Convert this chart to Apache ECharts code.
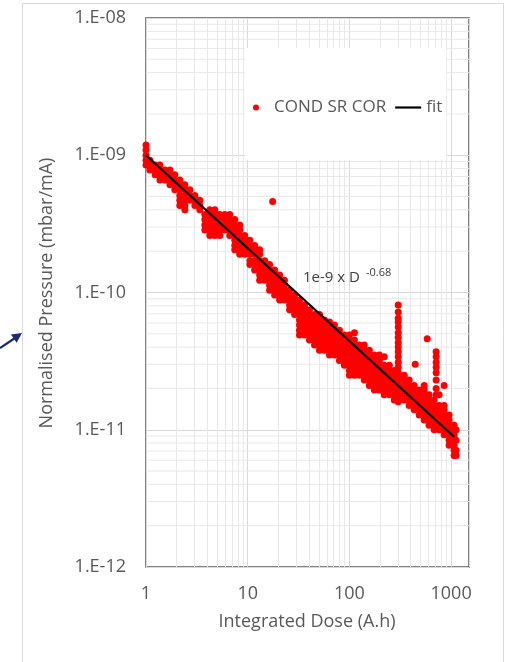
<!DOCTYPE html>
<html>
<head>
<meta charset="utf-8">
<script src="https://cdn.jsdelivr.net/npm/echarts@6/dist/echarts.min.js"></script>
<style>
  html, body { margin: 0; padding: 0; background: #fff; }
  #chart { width: 506px; height: 662px; }
</style>
</head>
<body>
<div id="chart"></div>
<script>
// integrated dose (A.h) of each column of points
const doseCols = [
  1.0, 1.09, 1.23, 1.37, 1.54, 1.72, 1.92, 2.15, 2.41, 2.70, 3.02, 3.38,
  3.79, 4.24, 4.75, 5.31, 5.95, 6.66, 7.46, 8.35, 9.35,
  10.5, 11.7, 13.1, 14.7, 16.4, 17.6, 18.4, 20.6, 23.0, 25.8, 28.9,
  32.3, 36.2, 40.5, 45.4, 50.8, 56.8, 63.7, 71.3, 79.8, 89.3,
  100, 112, 125, 140, 157, 176, 197, 220, 247, 276, 302,
  346, 387, 434, 444, 486, 544, 582, 608, 681, 713, 763, 854, 956, 1070, 1120
];

// normalised pressure (mbar/mA) values seen at each dose
const pressureCols = [
  [1.19e-9, 1.09e-9, 1.0e-9, 9.2e-10, 8.5e-10],
  [9.2e-10, 8.5e-10, 7.8e-10],
  [8.5e-10, 7.8e-10, 7.2e-10],
  [8.5e-10, 7.8e-10, 7.2e-10, 6.6e-10],
  [7.8e-10, 7.2e-10, 6.6e-10],
  [7.8e-10, 7.2e-10, 6.6e-10, 6.1e-10],
  [7.2e-10, 6.6e-10, 6.1e-10, 5.6e-10],
  [6.6e-10, 6.1e-10, 5.6e-10, 5.1e-10, 4.7e-10, 4.3e-10],
  [6.1e-10, 5.6e-10, 5.1e-10, 4.7e-10, 4.3e-10, 4.0e-10],
  [5.6e-10, 5.1e-10, 4.7e-10],
  [5.1e-10, 4.7e-10, 4.3e-10],
  [4.7e-10, 4.3e-10, 4.0e-10],
  [3.7e-10, 3.4e-10, 3.1e-10, 2.85e-10],
  [4.0e-10, 3.7e-10, 3.4e-10, 3.1e-10, 2.85e-10, 2.6e-10],
  [4.0e-10, 3.7e-10, 3.4e-10, 3.1e-10, 2.85e-10, 2.6e-10],
  [3.7e-10, 3.4e-10, 3.1e-10, 2.85e-10, 2.6e-10],
  [3.7e-10, 3.4e-10, 3.1e-10, 2.85e-10],
  [3.7e-10, 3.4e-10, 3.1e-10, 2.85e-10, 2.6e-10],
  [3.4e-10, 3.1e-10, 2.85e-10, 2.6e-10, 2.4e-10, 2.2e-10, 2.05e-10],
  [3.1e-10, 2.85e-10, 2.6e-10, 2.4e-10, 2.2e-10, 2.05e-10, 1.9e-10],
  [2.6e-10, 2.4e-10, 2.2e-10, 2.05e-10, 1.9e-10],
  [2.4e-10, 2.2e-10, 2.05e-10, 1.9e-10, 1.7e-10, 1.6e-10],
  [2.2e-10, 2.05e-10, 1.9e-10, 1.7e-10, 1.6e-10, 1.46e-10],
  [2.05e-10, 1.9e-10, 1.7e-10, 1.6e-10, 1.46e-10, 1.34e-10, 1.23e-10],
  [1.7e-10, 1.6e-10, 1.46e-10, 1.34e-10, 1.23e-10],
  [1.6e-10, 1.46e-10, 1.34e-10, 1.23e-10, 1.13e-10, 1.04e-10],
  [4.6e-10],
  [1.46e-10, 1.34e-10, 1.23e-10, 1.13e-10, 1.04e-10, 9.6e-11],
  [1.34e-10, 1.23e-10, 1.13e-10, 1.04e-10, 9.6e-11, 8.8e-11],
  [1.23e-10, 1.13e-10, 1.04e-10, 9.6e-11, 8.8e-11],
  [1.04e-10, 9.6e-11, 8.8e-11, 8.1e-11, 7.5e-11],
  [9.6e-11, 8.8e-11, 8.1e-11, 7.5e-11, 6.9e-11],
  [8.8e-11, 8.1e-11, 7.5e-11, 6.9e-11, 6.3e-11, 5.8e-11, 5.3e-11, 4.9e-11],
  [8.1e-11, 7.5e-11, 6.9e-11, 6.3e-11, 5.8e-11, 5.3e-11, 4.9e-11],
  [7.5e-11, 6.9e-11, 6.3e-11, 5.8e-11, 5.3e-11, 4.9e-11, 4.5e-11],
  [6.9e-11, 6.3e-11, 5.8e-11, 5.3e-11, 4.9e-11, 4.5e-11, 4.15e-11],
  [6.9e-11, 6.3e-11, 5.8e-11, 5.3e-11, 4.9e-11, 4.5e-11, 4.15e-11, 3.8e-11],
  [6.3e-11, 5.8e-11, 5.3e-11, 4.9e-11, 4.5e-11, 4.15e-11, 3.8e-11],
  [6.1e-11, 5.8e-11, 5.3e-11, 4.9e-11, 4.5e-11, 4.15e-11, 3.8e-11, 3.5e-11],
  [5.8e-11, 5.3e-11, 4.9e-11, 4.5e-11, 4.15e-11, 3.8e-11, 3.5e-11],
  [5.3e-11, 4.9e-11, 4.5e-11, 4.15e-11, 3.8e-11, 3.5e-11, 3.2e-11],
  [4.9e-11, 4.5e-11, 4.15e-11, 3.8e-11, 3.5e-11, 3.2e-11, 2.95e-11],
  [4.9e-11, 4.5e-11, 4.15e-11, 3.8e-11, 3.5e-11, 3.2e-11, 2.95e-11, 2.7e-11, 2.5e-11],
  [5.1e-11, 4.5e-11, 4.15e-11, 3.8e-11, 3.5e-11, 3.2e-11, 2.95e-11, 2.7e-11, 2.5e-11],
  [4.15e-11, 3.8e-11, 3.5e-11, 3.2e-11, 2.95e-11, 2.7e-11, 2.5e-11],
  [4.15e-11, 3.8e-11, 3.5e-11, 3.2e-11, 2.95e-11, 2.7e-11, 2.5e-11, 2.3e-11],
  [3.8e-11, 3.5e-11, 3.2e-11, 2.95e-11, 2.7e-11, 2.5e-11, 2.3e-11, 2.1e-11],
  [3.5e-11, 3.2e-11, 2.95e-11, 2.7e-11, 2.5e-11, 2.3e-11, 2.1e-11, 1.95e-11],
  [3.5e-11, 3.2e-11, 2.95e-11, 2.7e-11, 2.5e-11, 2.3e-11, 2.1e-11, 1.95e-11],
  [3.4e-11, 2.95e-11, 2.7e-11, 2.5e-11, 2.3e-11, 2.1e-11, 1.95e-11, 1.8e-11],
  [2.95e-11, 2.7e-11, 2.5e-11, 2.3e-11, 2.1e-11, 1.95e-11, 1.8e-11],
  [2.7e-11, 2.5e-11, 2.3e-11, 2.1e-11, 1.95e-11, 1.8e-11, 1.65e-11],
  [8.1e-11, 7.2e-11, 6.5e-11, 6.1e-11, 5.6e-11, 5.1e-11, 4.7e-11, 4.3e-11, 4.0e-11, 3.7e-11,
   3.4e-11, 3.1e-11, 2.85e-11, 2.6e-11, 2.4e-11, 2.2e-11, 2.05e-11, 1.9e-11, 1.75e-11, 1.6e-11],
  [2.5e-11, 2.3e-11, 2.1e-11, 1.95e-11, 1.8e-11, 1.65e-11],
  [2.3e-11, 2.1e-11, 1.95e-11, 1.8e-11, 1.65e-11, 1.5e-11],
  [2.1e-11, 1.95e-11, 1.8e-11, 1.65e-11, 1.5e-11, 1.4e-11],
  [3.0e-11],
  [1.95e-11, 1.8e-11, 1.65e-11, 1.5e-11, 1.4e-11, 1.28e-11],
  [2.1e-11, 1.95e-11, 1.8e-11, 1.65e-11, 1.5e-11, 1.4e-11, 1.28e-11, 1.18e-11],
  [4.6e-11],
  [1.8e-11, 1.65e-11, 1.5e-11, 1.4e-11, 1.28e-11, 1.18e-11, 1.08e-11],
  [1.65e-11, 1.5e-11, 1.4e-11, 1.28e-11, 1.18e-11, 1.08e-11, 1.0e-11],
  [3.7e-11, 3.4e-11, 3.1e-11, 2.85e-11, 2.6e-11, 2.3e-11, 2.0e-11, 1.8e-11],
  [1.8e-11, 1.5e-11, 1.4e-11, 1.28e-11, 1.18e-11, 1.08e-11, 1.0e-11],
  [2.1e-11, 1.5e-11, 1.4e-11, 1.28e-11, 1.18e-11, 1.08e-11, 1.0e-11, 9.2e-12],
  [1.28e-11, 1.18e-11, 1.08e-11, 1.0e-11, 9.2e-12, 8.4e-12, 7.7e-12],
  [1.08e-11, 1.0e-11, 9.2e-12, 8.4e-12, 7.7e-12, 7.1e-12, 6.5e-12],
  [1.0e-11, 8.4e-12, 7.1e-12, 6.5e-12]
];

// fit line end points: 1e-9 x D^-0.68
const fitDose = [1, 1070];
const fitPressure = [1.0e-9, 8.9e-12];

const xTickLabels = ['1', '10', '100', '1000'];
const yTickLabels = ['1.E-12', '1.E-11', '1.E-10', '1.E-09', '1.E-08'];

const TEXT = '#595959';
const FONT = 'Open Sans';
const X_MIN = 1, X_MAX = 1500, Y_MIN = 1e-12, Y_MAX = 1e-8;

const points = doseCols.flatMap((d, i) => pressureCols[i].map(p => [d, p]));
const fitData = fitDose.map((d, i) => [d, fitPressure[i]]);

// minor grid lines at 2..9 of every decade
const minorX = [], minorY = [];
[1, 10, 100].forEach(b => { for (let k = 2; k <= 9; k++) minorX.push(b * k); });
[1e-12, 1e-11, 1e-10, 1e-9].forEach(b => { for (let k = 2; k <= 9; k++) minorY.push(+(b * k).toPrecision(3)); });
const minorYSegments = minorY.flatMap(v => [[X_MIN, v], [X_MAX, v], [X_MAX, '-']]);

const isDecade = v => Math.abs(Math.log10(v) - Math.round(Math.log10(v))) < 1e-6;

const chart = echarts.init(document.getElementById('chart'), null, { renderer: 'canvas' });

chart.setOption({
  animation: false,
  backgroundColor: '#fff',
  textStyle: { fontFamily: FONT },
  grid: {
    left: 146, top: 18, right: 37, bottom: 95,
    show: true, borderColor: '#595959', borderWidth: 1.5, backgroundColor: 'transparent'
  },
  legend: {
    left: 245, top: 48,
    backgroundColor: '#fff',
    padding: [51, 4, 44, 8],
    itemWidth: 26, itemHeight: 6, itemGap: 9,
    textStyle: { color: TEXT, fontSize: 17, fontFamily: FONT },
    data: [
      { name: 'COND SR COR', icon: 'circle' },
      { name: 'fit', icon: 'path://M0 0H26V2.2H0Z' }
    ]
  },
  xAxis: {
    type: 'log', logBase: 10, min: X_MIN, max: X_MAX,
    axisLine: { show: false }, axisTick: { show: false },
    axisLabel: {
      color: TEXT, fontSize: 18, margin: 18, fontFamily: FONT,
      formatter: v => isDecade(v) ? xTickLabels[Math.round(Math.log10(v))] : ''
    },
    splitLine: { show: true, lineStyle: { color: '#d9d9d9', width: 1 } }
  },
  yAxis: {
    type: 'log', logBase: 10, min: Y_MIN, max: Y_MAX,
    axisLine: { show: false }, axisTick: { show: false },
    axisLabel: {
      color: TEXT, fontSize: 18, margin: 20, fontFamily: FONT, padding: [5, 0, 0, 0],
      formatter: v => isDecade(v) ? yTickLabels[Math.round(Math.log10(v)) + 12] : ''
    },
    splitLine: { show: true, lineStyle: { color: '#d9d9d9', width: 1 } }
  },
  series: [
    {
      name: 'minorX', type: 'scatter', data: [], silent: true,
      markLine: {
        z: 1, silent: true, symbol: 'none', label: { show: false }, animation: false,
        emphasis: { disabled: true },
        lineStyle: { color: '#e8e8e8', width: 1, type: 'solid' },
        data: minorX.map(v => ({ xAxis: v }))
      }
    },
    {
      name: 'minorY', type: 'line', data: minorYSegments, silent: true, z: 1,
      symbol: 'none', showSymbol: false, connectNulls: false,
      lineStyle: { color: '#e8e8e8', width: 1 }, emphasis: { disabled: true }
    },
    {
      name: 'COND SR COR', type: 'scatter', data: points, z: 3,
      symbolSize: 7, itemStyle: { color: '#ff0000', opacity: 1 }
    },
    {
      name: 'fit', type: 'line', data: fitData, symbol: 'none', showSymbol: false, z: 5,
      lineStyle: { color: '#000', width: 2.2 }, itemStyle: { color: '#000' }
    }
  ],
  graphic: [
    { type: 'rect', z: 0, shape: { x: 22.5, y: 3.5, width: 481, height: 700 },
      style: { fill: 'none', stroke: '#d9d9d9', lineWidth: 1 } },
    { type: 'line', z: 0, shape: { x1: 0, y1: 348, x2: 15, y2: 338 },
      style: { stroke: '#1c2a78', lineWidth: 2.2 } },
    { type: 'polygon', z: 0, shape: { points: [[22, 333], [16.6, 342.8], [10.9, 334.5]] },
      style: { fill: '#1c2a78' } },
    { type: 'text', z: 10, x: 47, y: 293, rotation: Math.PI / 2,
      style: { text: 'Normalised Pressure (mbar/mA)', fill: TEXT, font: '18px "Open Sans"',
               align: 'center', verticalAlign: 'middle' } },
    { type: 'text', z: 10, x: 307, y: 622,
      style: { text: 'Integrated Dose (A.h)', fill: TEXT, font: '18px "Open Sans"',
               align: 'center', verticalAlign: 'middle' } },
    { type: 'text', z: 10, x: 303, y: 278,
      style: { text: '1e-9 x D', fill: '#404040', font: '15px "Open Sans"', verticalAlign: 'middle' } },
    { type: 'text', z: 10, x: 366, y: 273,
      style: { text: '-0.68', fill: '#404040', font: '11px "Open Sans"', verticalAlign: 'middle' } }
  ]
});
</script>
</body>
</html>
